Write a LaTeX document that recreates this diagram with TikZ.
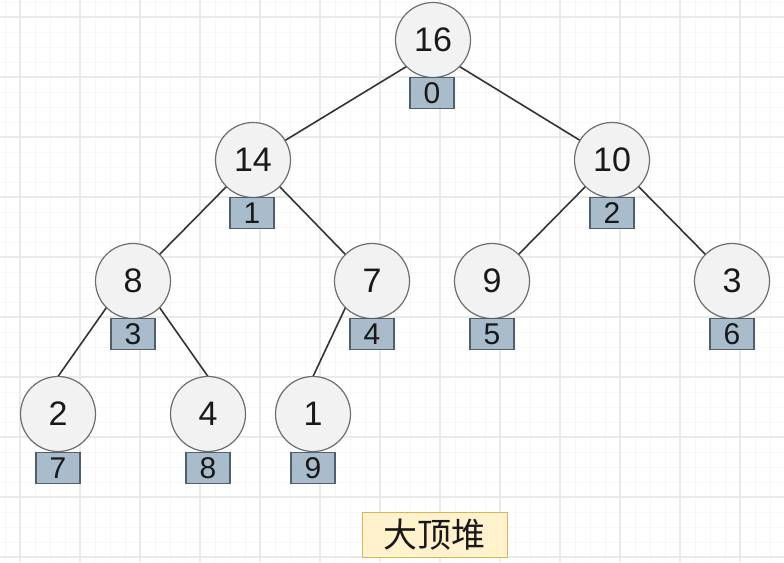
\documentclass[tikz,border=0pt]{standalone}
\usepackage{fontspec}
\setmainfont{Liberation Sans}
\newfontfamily\cjk{Noto Sans CJK SC}
\usetikzlibrary{backgrounds}
\definecolor{gridmaj}{RGB}{234,234,234}
\definecolor{gridmin}{RGB}{247,247,247}
\definecolor{nodefill}{RGB}{242,242,242}
\definecolor{nodeline}{RGB}{110,110,110}
\definecolor{idxfill}{RGB}{168,188,204}
\definecolor{idxline}{RGB}{80,95,112}
\definecolor{lblfill}{RGB}{255,242,204}
\definecolor{lblline}{RGB}{214,182,86}
\definecolor{txt}{RGB}{25,25,25}
\begin{document}
\begin{tikzpicture}[x=1pt,y=-1pt,
  heap/.style={circle,draw=nodeline,fill=nodefill,line width=1.2pt,minimum size=75pt,inner sep=0pt,outer sep=0pt,text=txt,font=\fontsize{34}{36}\selectfont},
  idx/.style={rectangle,draw=idxline,fill=idxfill,line width=1.2pt,minimum width=44pt,minimum height=31pt,inner sep=0pt,text=txt,font=\fontsize{30}{32}\selectfont},
  lbl/.style={rectangle,draw=lblline,fill=lblfill,line width=1pt,minimum width=145pt,minimum height=45pt,inner sep=0pt,text=txt,font=\cjk\fontsize{34}{36}\selectfont},
  edge/.style={draw=black!80,line width=1.6pt}]
\useasboundingbox (0,0) rectangle (784,562);

\node[heap] (n0) at (433,40) {16};
\node[heap] (n1) at (253,160) {14};
\node[heap] (n2) at (612,160) {10};
\node[heap] (n3) at (133,281) {8};
\node[heap] (n4) at (372,281) {7};
\node[heap] (n5) at (492,281) {9};
\node[heap] (n6) at (732,281) {3};
\node[heap] (n7) at (58,414) {2};
\node[heap] (n8) at (208,414) {4};
\node[heap] (n9) at (313,414) {1};

\node[idx] (i0) at (432,93) {0};
\node[idx] (i1) at (252,213) {1};
\node[idx] (i2) at (612,213) {2};
\node[idx] (i3) at (133,334) {3};
\node[idx] (i4) at (372,334) {4};
\node[idx] (i5) at (492,334) {5};
\node[idx] (i6) at (732,334) {6};
\node[idx] (i7) at (58,468) {7};
\node[idx] (i8) at (208,468) {8};
\node[idx] (i9) at (313,468) {9};

\node[lbl] (title) at (434.5,534.5) {大顶堆};

\begin{scope}[on background layer]
\fill[white] (0,0) rectangle (784,562);
\foreach \x in {5,20,...,784} \draw[gridmin,line width=0.8pt] (\x,0) -- (\x,562);
\foreach \y in {2,17,...,562} \draw[gridmin,line width=0.8pt] (0,\y) -- (784,\y);
\foreach \x in {20,80,...,784} \draw[gridmaj,line width=1.2pt] (\x,0) -- (\x,562);
\foreach \y in {17,77,...,562} \draw[gridmaj,line width=1.2pt] (0,\y) -- (784,\y);
\draw[edge] (n0.south west) -- (n1);
\draw[edge] (n0.south east) -- (n2);
\draw[edge] (n1.south west) -- (n3.north east);
\draw[edge] (n1.south east) -- (n4.north west);
\draw[edge] (n2.south west) -- (n5.north east);
\draw[edge] (n2.south east) -- (n6.north west);
\draw[edge] (n3.south west) -- (n7.north);
\draw[edge] (n3.south east) -- (n8.north);
\draw[edge] (n4.south west) -- (n9.north);
\end{scope}
\end{tikzpicture}
\end{document}
